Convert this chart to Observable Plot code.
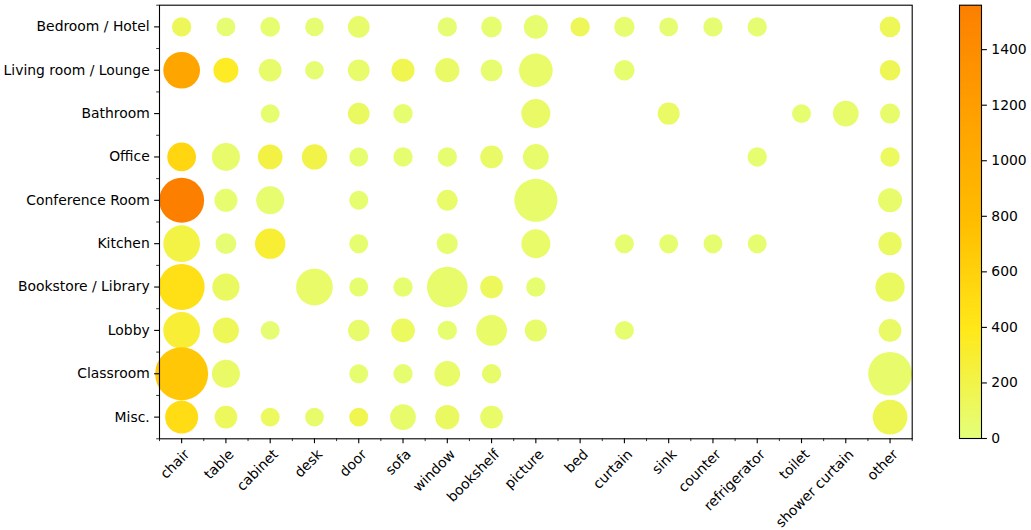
<!DOCTYPE html>
<html>
<head>
<meta charset="utf-8">
<script src="https://cdn.jsdelivr.net/npm/d3@7"></script>
<script src="https://cdn.jsdelivr.net/npm/@observablehq/plot@0.6"></script>
<style>
  html, body { margin: 0; padding: 0; background: #fff; }
  #wrap { position: relative; width: 1031px; height: 530px; overflow: hidden; font-family: "DejaVu Sans", sans-serif; }
  #main { position: absolute; left: 0; top: 0; }
  #bar { position: absolute; left: 925px; top: 0; }
</style>
</head>
<body>
<div id="wrap"><div id="main"></div><div id="bar"></div></div>
<script>
const rooms = ["Bedroom / Hotel", "Living room / Lounge", "Bathroom", "Office", "Conference Room",
  "Kitchen", "Bookstore / Library", "Lobby", "Classroom", "Misc."];
const objects = ["chair", "table", "cabinet", "desk", "door", "sofa", "window", "bookshelf", "picture",
  "bed", "curtain", "sink", "counter", "refrigerator", "toilet", "shower curtain", "other"];

// object counts per room (colour), null = not present
const counts = [
  [130, 30, 40, 30, 60, null, 30, 40, 50, 130, 50, 30, 30, 30, null, null, 140],
  [1100, 345, 60, 30, 60, 170, 80, 50, 70, null, 40, null, null, null, null, null, 150],
  [null, null, 40, null, 100, 40, null, null, 80, null, null, 90, null, null, 40, 60, 60],
  [550, 60, 220, 200, 40, 40, 40, 80, 60, null, null, null, null, 40, null, null, 110],
  [1560, 50, 50, null, 40, null, 70, null, 60, null, null, null, null, null, null, null, 60],
  [210, 30, 290, null, 40, null, 50, null, 70, null, 40, 40, 40, 40, null, null, 100],
  [470, 100, null, 70, 40, 40, 60, 120, 40, null, null, null, null, null, null, null, 100],
  [280, 140, 30, null, 60, 110, 40, 70, 60, null, 40, null, null, null, null, null, 80],
  [690, 80, null, null, 40, 40, 70, 60, null, null, null, null, null, null, null, null, 60],
  [500, 120, 110, 60, 170, 60, 100, 70, null, null, null, null, null, null, null, null, 150]
];
// share (%) of each object within its room (bubble size)
const shares = [
  [1.0, 0.7, 1.3, 0.5, 2.9, null, 1.0, 2.1, 5.0, 1.0, 1.8, 0.7, 1.0, 1.0, null, null, 2.1],
  [20.5, 6.0, 3.8, 0.5, 2.9, 4.1, 5.3, 2.9, 16.2, null, 1.8, null, null, null, null, null, 2.1],
  [null, null, 0.7, null, 2.9, 1.0, null, null, 10.3, null, null, 3.2, null, null, 0.7, 6.7, 1.5],
  [10.0, 9.2, 5.7, 6.3, 0.7, 1.0, 1.0, 3.8, 6.7, null, null, null, null, 1.0, null, null, 1.0],
  [34.0, 4.1, 9.2, null, 0.7, null, 2.3, null, 30.5, null, null, null, null, null, null, null, 5.0],
  [20.5, 2.1, 11.9, null, 0.7, null, 2.3, null, 10.3, null, 0.7, 0.7, 0.7, 0.7, null, null, 4.4],
  [35.8, 8.4, null, 20.5, 0.7, 1.0, 26.6, 3.8, 1.0, null, null, null, null, null, null, null, 10.7],
  [20.5, 7.0, 0.7, null, 2.6, 4.7, 1.0, 12.4, 3.2, null, 0.7, null, null, null, null, null, 3.8],
  [49.7, 9.2, null, null, 0.7, 1.0, 6.7, 1.0, null, null, null, null, null, null, null, null, 31.7],
  [15.3, 3.8, 0.7, 0.5, 0.7, 6.7, 5.3, 3.8, null, null, null, null, null, null, null, null, 17.6]
];
const colorTicks = [0, 200, 400, 600, 800, 1000, 1200, 1400];
const colorMax = 1560;

// Wistia colormap
const wistia = ["#e4ff7a", "#ffe81a", "#ffbd00", "#ffa000", "#fc7f00"];
const colorScale = {
  type: "linear",
  domain: [0, colorMax * 0.25, colorMax * 0.5, colorMax * 0.75, colorMax],
  range: wistia,
  interpolate: "rgb"
};
const baseArea = 6.48; // minimum marker area (in share units)

const data = [];
rooms.forEach((room, r) => {
  objects.forEach((obj, o) => {
    if (counts[r][o] != null) data.push({r, o, count: counts[r][o], share: shares[r][o]});
  });
});

const font = {fontFamily: "DejaVu Sans, sans-serif", fontSize: "13.9px", background: "white", color: "black"};

const main = Plot.plot({
  width: 925,
  height: 530,
  marginLeft: 159,
  marginRight: 13.3,
  marginTop: 4.7,
  marginBottom: 91.7,
  style: font,
  x: {type: "linear", domain: [-0.5, objects.length - 0.5]},
  y: {type: "linear", domain: [-0.5, rooms.length - 0.5], reverse: true},
  color: colorScale,
  r: {type: "sqrt", domain: [0, 49.7 + baseArea], range: [0, 26.5]},
  marks: [
    Plot.dot(data, {x: "o", y: "r", r: d => d.share + baseArea, fill: "count", stroke: null, sort: null}),
    Plot.frame({stroke: "black", strokeWidth: 1.1}),
    Plot.axisY({ticks: d3.range(rooms.length), tickFormat: i => rooms[i], tickSize: 4.9, tickPadding: 4.9,
      label: null, strokeWidth: 1.1, fontSize: 13.9}),
    Plot.axisY({ticks: d3.range(rooms.length + 1).map(i => i - 0.5), tickSize: 2.8, fill: "none",
      label: null, strokeWidth: 0.8}),
    Plot.axisX({ticks: d3.range(objects.length), tickSize: 4.9, fill: "none", label: null, strokeWidth: 1.1}),
    Plot.axisX({ticks: d3.range(objects.length + 1).map(i => i - 0.5), tickSize: 2.8, fill: "none",
      label: null, strokeWidth: 0.8}),
    Plot.text(objects, {x: (d, i) => i, text: d => d, frameAnchor: "bottom", rotate: -45,
      textAnchor: "end", lineAnchor: "middle", dx: 5.6, dy: 13.2, fontSize: 13.9})
  ]
});
document.getElementById("main").appendChild(main);

const step = 2;
const bar = Plot.plot({
  width: 106,
  height: 530,
  marginLeft: 34,
  marginRight: 50,
  marginTop: 4.7,
  marginBottom: 92,
  style: font,
  x: {domain: [0, 1], axis: null},
  y: {domain: [0, colorMax], axis: null},
  color: colorScale,
  marks: [
    Plot.rect(d3.range(0, colorMax, step), {x1: 0, x2: 1, y1: d => d, y2: d => Math.min(d + step + 0.6, colorMax),
      fill: d => d + step / 2, shapeRendering: "crispEdges"}),
    Plot.frame({stroke: "black", strokeWidth: 1.1}),
    Plot.axisY({anchor: "right", ticks: colorTicks, tickFormat: d => String(d), tickSize: 4.9, tickPadding: 4.9,
      label: null, strokeWidth: 1.1, fontSize: 13.9})
  ]
});
document.getElementById("bar").appendChild(bar);
</script>
</body>
</html>
